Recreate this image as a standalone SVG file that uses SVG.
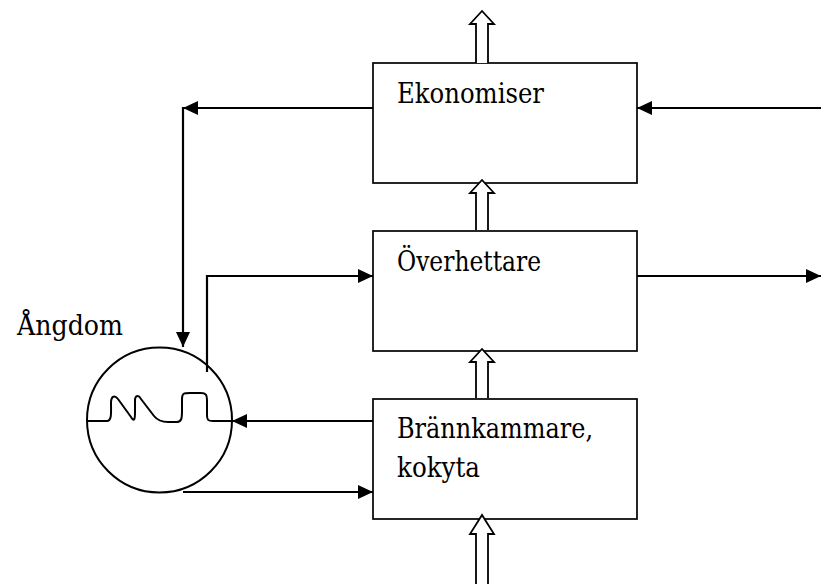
<svg xmlns="http://www.w3.org/2000/svg" width="821" height="584" viewBox="0 0 821 584">
<style>
.box{fill:#fff;stroke:#000;stroke-width:1.7}
.ln{fill:none;stroke:#000;stroke-width:2.2}
.hol{fill:#fff;stroke:#000;stroke-width:1.8;stroke-linejoin:miter}
text{font-family:'DejaVu Serif',serif;font-size:28px;fill:#000}
</style>
<defs>
<marker id="ah" markerUnits="userSpaceOnUse" markerWidth="15" markerHeight="14" refX="15" refY="7" orient="auto">
<path d="M0,0 L15,7 L0,14 z" fill="#000"/>
</marker>
</defs>
<rect width="821" height="584" fill="#fff"/>
<g id="ekonomiser">
<rect class="box" x="373" y="63" width="264" height="120"/>
<text x="397" y="103" textLength="147" lengthAdjust="spacingAndGlyphs">Ekonomiser</text>
</g>
<g id="overhettare">
<rect class="box" x="373" y="231" width="264" height="120"/>
<text x="397" y="271" textLength="144" lengthAdjust="spacingAndGlyphs">Överhettare</text>
</g>
<g id="brannkammare">
<rect class="box" x="373" y="399" width="264" height="120"/>
<text x="397" y="438" textLength="196" lengthAdjust="spacingAndGlyphs">Brännkammare,</text>
<text x="397" y="477" textLength="83" lengthAdjust="spacingAndGlyphs">kokyta</text>
</g>
<g id="angdom">
<circle cx="159.5" cy="420" r="72.5" fill="none" stroke="#000" stroke-width="2"/>
<path fill="none" stroke="#000" stroke-width="2" d="M87,421 L107,421 C112,421 111,412 111,403 C111,397 114,394 118,399 L131,417 C134,422 135,420 135,412 L135,400 C135,396 138,394 141,399 L154,416 C158,421 162,422 168,422 L177,422 C182,422 182,417 182,410 L182,399 C182,393 184,393 190,393 L201,393 C206,393 207,395 207,400 L207,415 C207,420 208,421 213,421 L232,421"/>
<text x="17" y="335" textLength="106" lengthAdjust="spacingAndGlyphs">Ångdom</text>
</g>
<g id="connectors">
<path class="ln" d="M373,108 L183,108" marker-end="url(#ah)"/>
<path class="ln" d="M183,107 L183,347" marker-end="url(#ah)"/>
<path class="ln" d="M207,372 L207,276 L373,276" marker-end="url(#ah)"/>
<path class="ln" d="M373,421 L232,421" marker-end="url(#ah)"/>
<path class="ln" d="M183,492 L373,492" marker-end="url(#ah)"/>
<path class="ln" d="M821,108 L637,108" marker-end="url(#ah)"/>
<path class="ln" d="M637,276 L821,276" marker-end="url(#ah)"/>
<path class="hol" d="M476,63 L476,24 L470,24 L482,11 L494,24 L488,24 L488,63"/>
<path class="hol" d="M476,230 L476,193 L470,193 L482,180 L494,193 L488,193 L488,230"/>
<path class="hol" d="M476,398 L476,362 L470,362 L482,349 L494,362 L488,362 L488,398"/>
<path class="hol" d="M476,585 L476,534 L470,534 L482,515 L494,534 L488,534 L488,585"/>
</g>
</svg>
